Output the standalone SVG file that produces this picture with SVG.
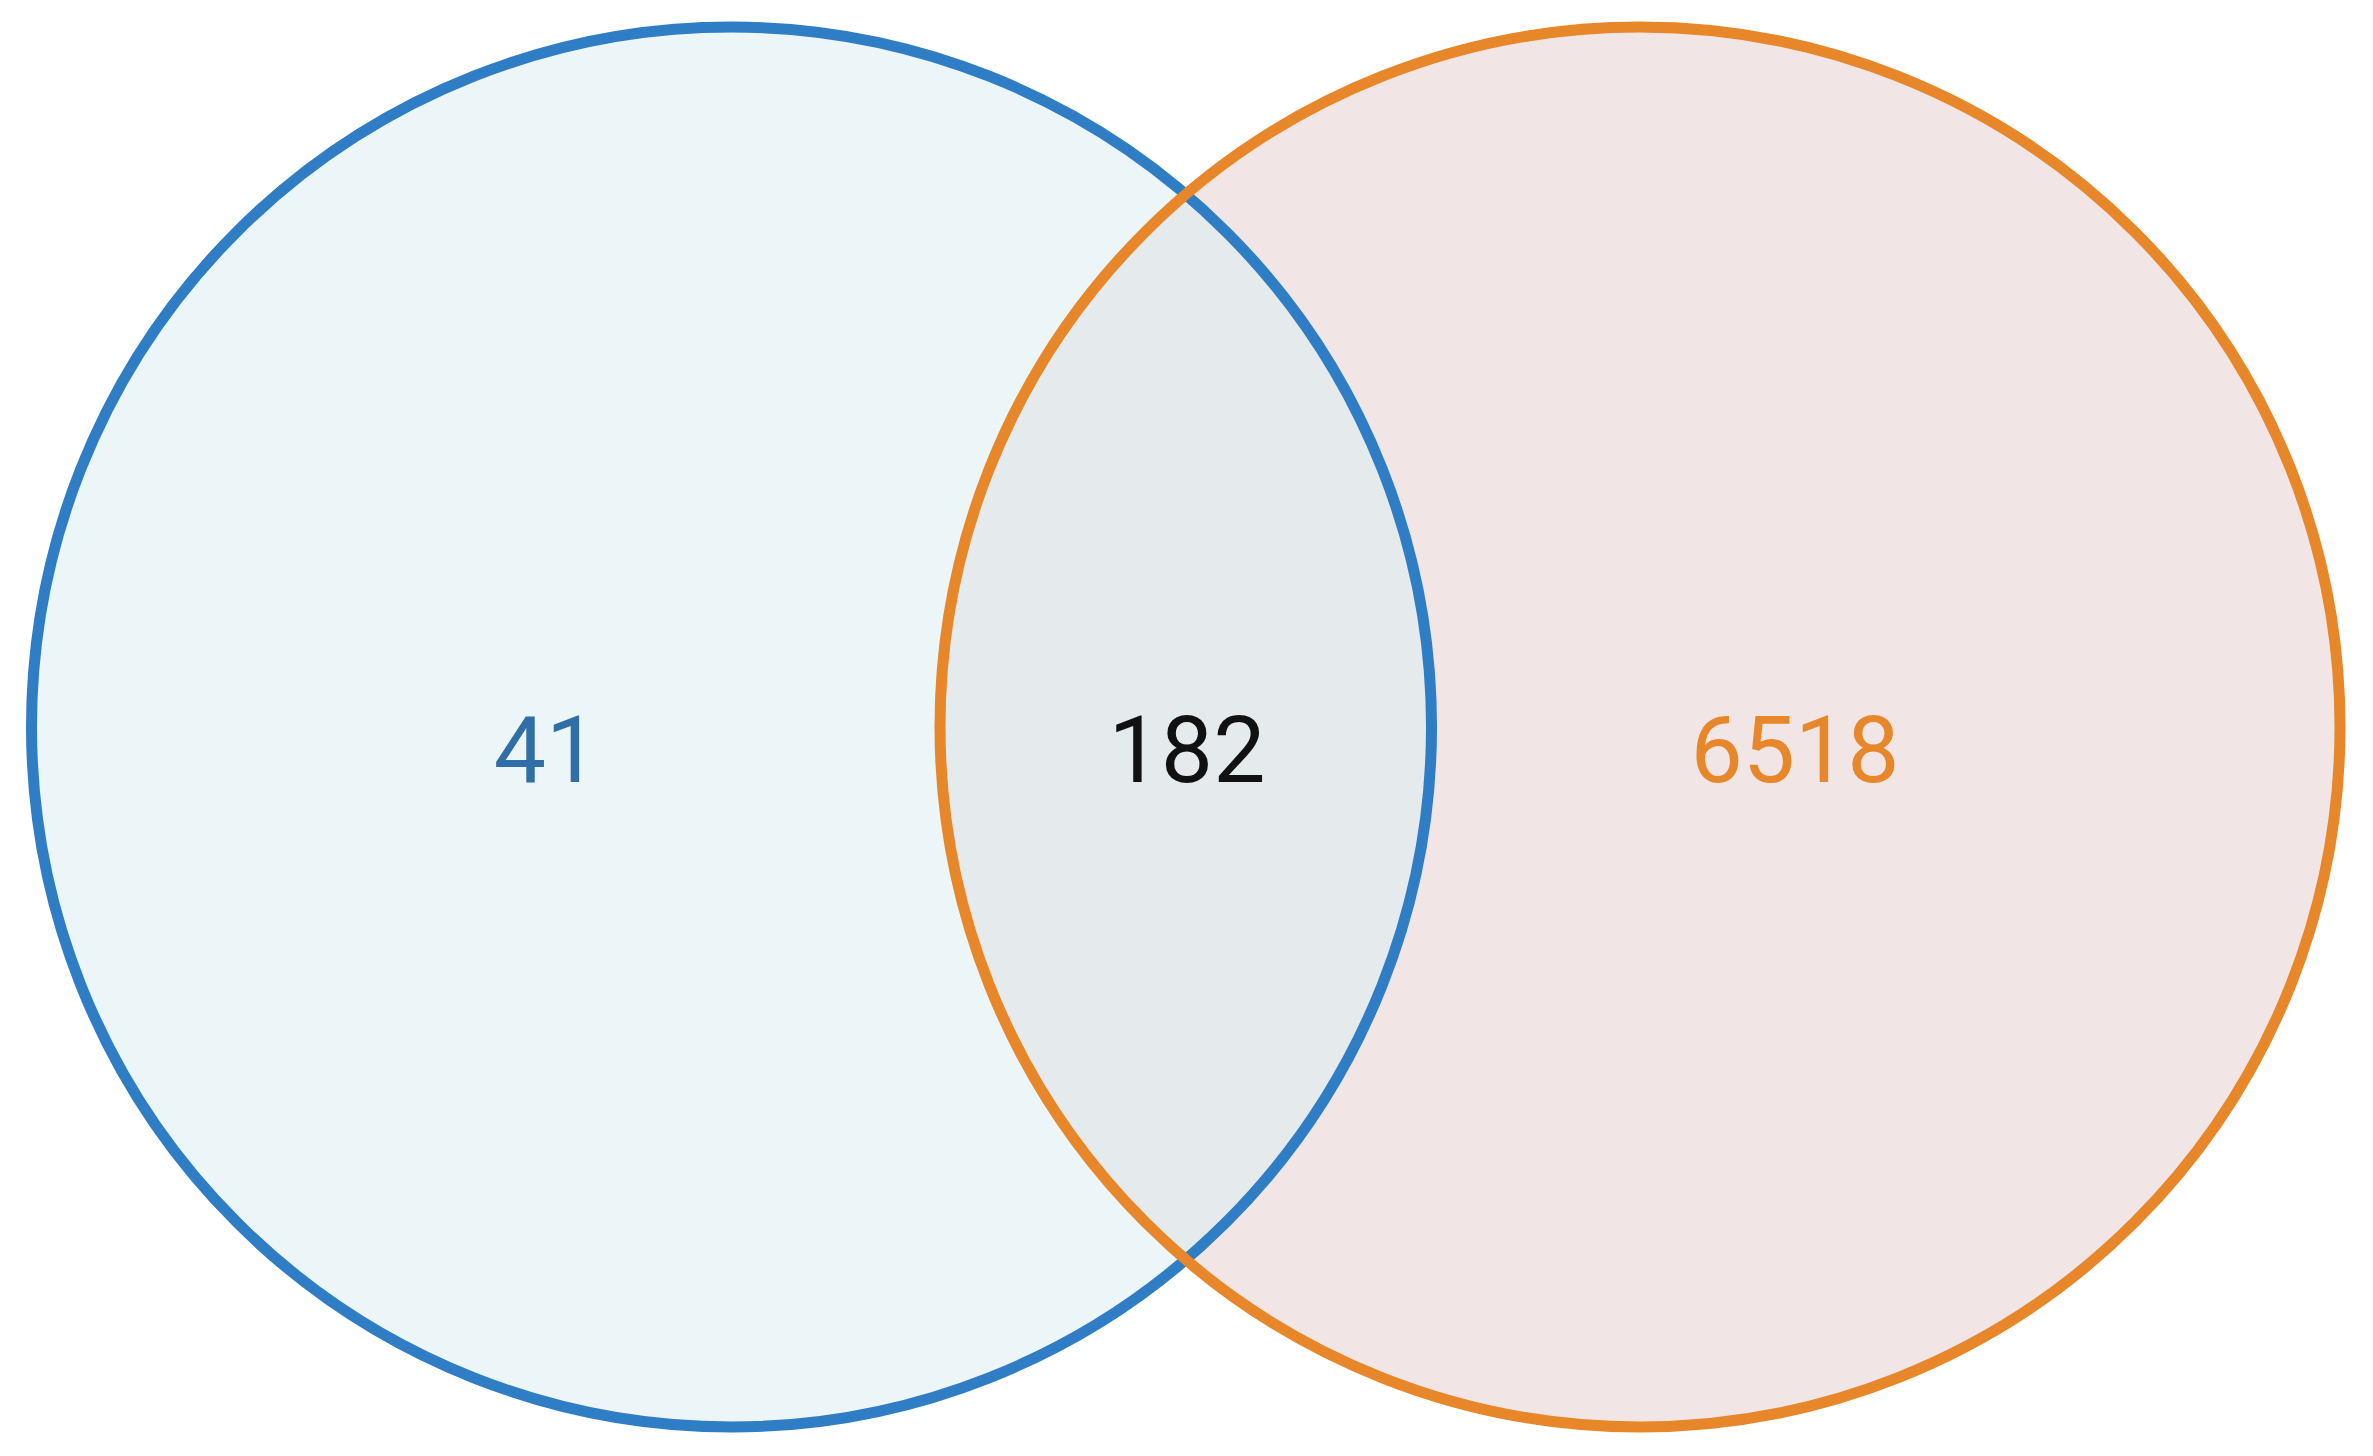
<svg xmlns="http://www.w3.org/2000/svg" width="2373" height="1456" viewBox="0 0 2373 1456">
<style>
.lbl{font-family:Roboto,"Liberation Sans",sans-serif;font-size:93px;text-anchor:middle}
.ring{fill:none;stroke-width:11}
</style>
<defs>
<clipPath id="clipA"><circle cx="731.5" cy="727" r="700"/></clipPath>
</defs>
<rect width="2373" height="1456" fill="#ffffff"/>
<g id="setA-fill"><circle cx="731.5" cy="727" r="700" fill="#ecf5f8"/></g>
<g id="setB-fill"><circle cx="1640" cy="727" r="700" fill="#f1e6e5"/></g>
<g id="overlap"><circle cx="1640" cy="727" r="700" fill="#e5eaec" clip-path="url(#clipA)"/></g>
<g id="setA"><circle class="ring" cx="731.5" cy="727" r="700" stroke="#2f7dc5"/></g>
<g id="setB"><circle class="ring" cx="1640" cy="727" r="700" stroke="#e8862a"/></g>
<g id="labels">
<text class="lbl" x="546" y="782" fill="#2f6ea6">41</text>
<text class="lbl" x="1187" y="782" fill="#111111">182</text>
<text class="lbl" x="1795" y="782" fill="#e8862a">6518</text>
</g>
</svg>
